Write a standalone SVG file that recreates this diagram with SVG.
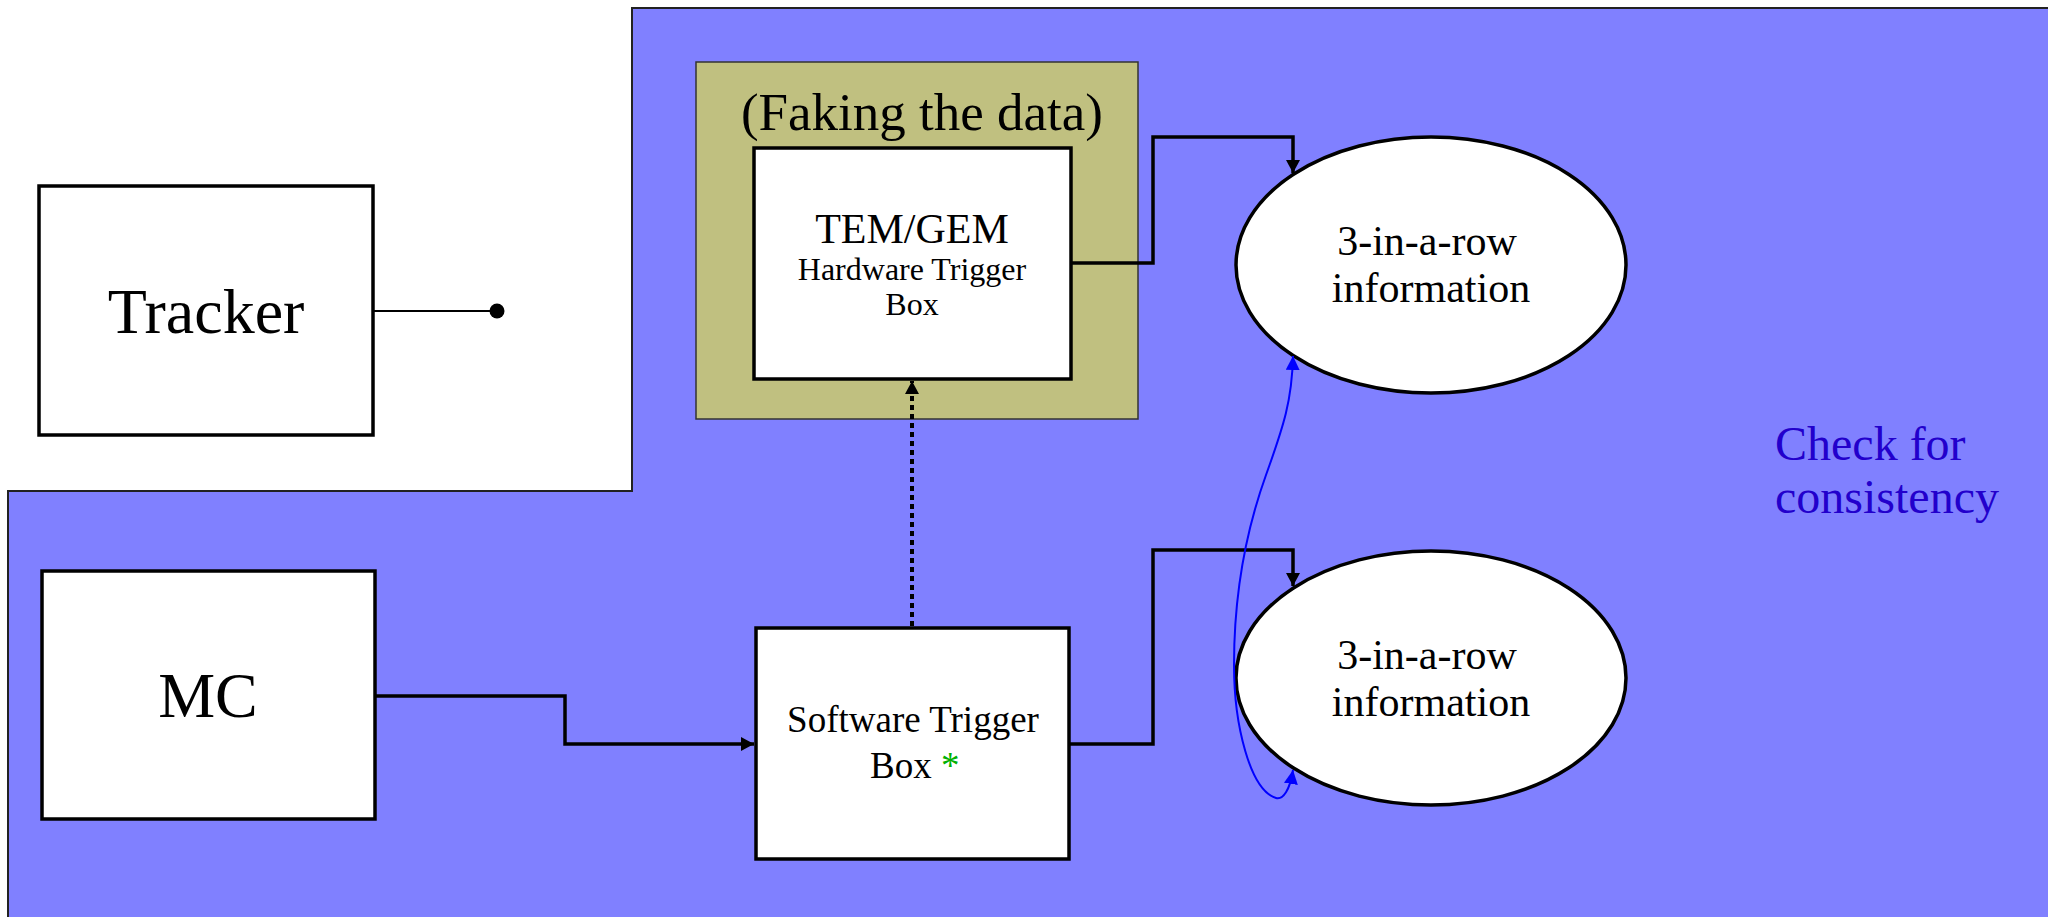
<svg xmlns="http://www.w3.org/2000/svg" width="2048" height="917" viewBox="0 0 2048 917">
<style>
text{font-family:"Liberation Serif","Times New Roman",serif;fill:#000;text-anchor:middle}
.box{fill:#fff;stroke:#000;stroke-width:3.5}
.ell{fill:#fff;stroke:#000;stroke-width:3.5}
.conn{fill:none;stroke:#000;stroke-width:3.5}
.dash{fill:none;stroke:#000;stroke-width:4;stroke-dasharray:5 4}
.blue{fill:none;stroke:#0000FF;stroke-width:2}
.note{fill:#2200CC;text-anchor:start}
</style>
<defs>
<marker id="ah" markerUnits="userSpaceOnUse" markerWidth="14" markerHeight="14" refX="13" refY="7" orient="auto"><path d="M0,0 L13,7 L0,14 z" fill="#000"/></marker>
<marker id="ahb" markerUnits="userSpaceOnUse" markerWidth="15" markerHeight="14" refX="14" refY="7" orient="auto-start-reverse"><path d="M0,0 L14,7 L0,14 z" fill="#0000FF"/></marker>
</defs>
<rect width="2048" height="917" fill="#fff"/>
<g id="background">
<path d="M632,8 H2050 V920 H8 V491 H632 Z" fill="#8080FF" stroke="#222" stroke-width="2"/>
</g>
<g id="faking">
<rect x="696" y="62" width="442" height="357" fill="#C0C080" stroke="#333" stroke-width="1.5"/>
<text x="922" y="130" font-size="53">(Faking the data)</text>
</g>
<g id="tracker">
<rect class="box" x="39" y="186" width="334" height="249"/>
<text x="206" y="333" font-size="64">Tracker</text>
</g>
<g id="mc">
<rect class="box" x="42" y="571" width="333" height="248"/>
<text x="208" y="717" font-size="64">MC</text>
</g>
<g id="hw">
<rect class="box" x="754" y="148" width="317" height="231"/>
<text x="912" y="243" font-size="42">TEM/GEM</text>
<text x="912" y="280" font-size="32">Hardware Trigger</text>
<text x="912" y="315" font-size="32">Box</text>
</g>
<g id="sw">
<rect class="box" x="756" y="628" width="313" height="231"/>
<text x="913" y="732" font-size="37">Software Trigger</text>
<text x="870" y="778" font-size="37" style="text-anchor:start">Box <tspan fill="#00B000">*</tspan></text>
</g>
<g id="info1">
<ellipse class="ell" cx="1431" cy="265" rx="195" ry="128"/>
<text x="1427" y="255" font-size="42">3-in-a-row</text>
<text x="1431" y="302" font-size="42">information</text>
</g>
<g id="info2">
<ellipse class="ell" cx="1431" cy="678" rx="195" ry="127"/>
<text x="1427" y="669" font-size="42">3-in-a-row</text>
<text x="1431" y="716" font-size="42">information</text>
</g>
<g id="note">
<text class="note" x="1775" y="460" font-size="48">Check for</text>
<text class="note" x="1775" y="513" font-size="48">consistency</text>
</g>
<g id="connectors">
<path d="M373,311 H497" stroke="#000" stroke-width="2" fill="none"/>
<circle cx="497" cy="311" r="7.5" fill="#000"/>
<path class="conn" d="M375,696 H565 V744 H754" marker-end="url(#ah)"/>
<path class="dash" d="M912,626 V381" marker-end="url(#ah)"/>
<path class="conn" d="M1071,263 H1153 V137 H1293 V173" marker-end="url(#ah)"/>
<path class="conn" d="M1069,744 H1153 V550 H1293 V586" marker-end="url(#ah)"/>
<path class="blue" d="M1293,770 C1290,790 1283,800 1276,798 C1250,790 1234,725 1234,665 C1234,590 1248,525 1266,475 C1284,425 1292,400 1293,356" marker-start="url(#ahb)" marker-end="url(#ahb)"/>
</g>
</svg>
